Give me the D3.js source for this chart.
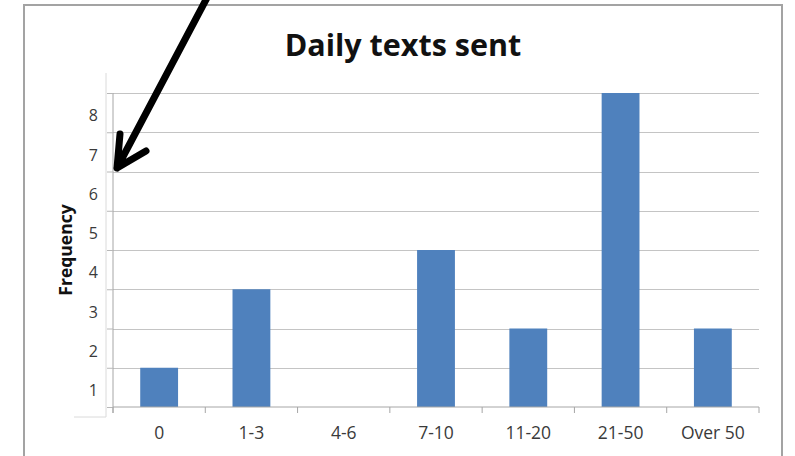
<!DOCTYPE html>
<html>
<head>
<meta charset="utf-8">
<script src="https://cdn.jsdelivr.net/npm/d3@7"></script>
<style>
  html, body { margin: 0; padding: 0; background: #fff; }
  svg { display: block; }
</style>
</head>
<body>
<svg id="chart" width="795" height="456"></svg>
<script>
// Daily texts sent — frequency of each range
const categories = ["0", "1-3", "4-6", "7-10", "11-20", "21-50", "Over 50"];
const frequency = [1, 3, 0, 4, 2, 8, 2];
const yTickValues = [0, 1, 2, 3, 4, 5, 6, 7, 8];
const titleText = "Daily texts sent";
const yTitle = "Frequency";

const svg = d3.select("#chart");
const font = "'Open Sans', 'Liberation Sans', sans-serif";

const plotLeft = 113, plotRight = 759, plotTop = 93, plotBottom = 407;

const x = d3.scaleBand().domain(categories).range([plotLeft, plotRight])
  .paddingInner(0.59).paddingOuter(0.295);
const xTick = d3.scaleBand().domain(categories).range([plotLeft, plotRight]);
const y = d3.scaleLinear().domain([0, 8]).range([plotBottom, plotTop]);

// outer frame
svg.append("rect")
  .attr("x", 24).attr("y", 5).attr("width", 758).attr("height", 520)
  .attr("fill", "none").attr("stroke", "#a3a3a3").attr("stroke-width", 2);

// faint box edge beside the value labels
svg.append("path")
  .attr("d", "M106,73V417H74")
  .attr("fill", "none").attr("stroke", "#dadada").attr("stroke-width", 1);

// horizontal gridlines
const grid = svg.append("g").attr("transform", `translate(${plotLeft},0)`)
  .call(d3.axisLeft(y).tickValues(yTickValues.slice(1)).tickSizeInner(-(plotRight - plotLeft)).tickSizeOuter(0).tickFormat(""));
grid.select(".domain").remove();
grid.selectAll(".tick line").attr("stroke", "#c4c4c4").attr("shape-rendering", "crispEdges");

// bars
svg.append("g").selectAll("rect")
  .data(categories)
  .join("rect")
  .attr("x", d => x(d))
  .attr("width", x.bandwidth())
  .attr("y", (d, i) => y(frequency[i]))
  .attr("height", (d, i) => y(0) - y(frequency[i]))
  .attr("fill", "#4f81bd");

// y axis
const band = y(0) - y(1);
const yAxis = svg.append("g").attr("transform", `translate(${plotLeft},0)`)
  .call(d3.axisLeft(y).tickValues(yTickValues).tickSizeInner(6).tickSizeOuter(0).tickPadding(9).tickFormat(d => d === 0 ? "" : d));
yAxis.select(".domain").attr("stroke", "#a6a6a6").attr("d", `M0,${plotTop}V${plotBottom + 6}`);
yAxis.selectAll(".tick line").attr("stroke", "#b8b8b8");
yAxis.selectAll(".tick text")
  .attr("transform", `translate(0,${band / 2 + 3})`)
  .attr("font-family", font).attr("font-size", 16).attr("fill", "#3a3a3a");

// x axis
const xAxis = svg.append("g").attr("transform", `translate(0,${plotBottom})`)
  .call(d3.axisBottom(xTick).tickSize(0).tickPadding(20));
xAxis.select(".domain").attr("stroke", "#a6a6a6").attr("d", `M${plotLeft},0H${plotRight}`);
xAxis.selectAll(".tick text")
  .attr("font-family", font).attr("font-size", 17.5).attr("fill", "#3a3a3a");
// category separator ticks
svg.append("g").selectAll("line")
  .data(categories.concat([null]))
  .join("line")
  .attr("x1", (d, i) => plotLeft + i * xTick.step())
  .attr("x2", (d, i) => plotLeft + i * xTick.step())
  .attr("y1", plotBottom).attr("y2", plotBottom + 6)
  .attr("stroke", "#a6a6a6");

// titles
svg.append("text")
  .attr("x", 403).attr("y", 56)
  .attr("text-anchor", "middle")
  .attr("font-family", font).attr("font-weight", "bold").attr("font-size", 30.5)
  .attr("fill", "#111").text(titleText);

svg.append("text")
  .attr("transform", "translate(72,250) rotate(-90)")
  .attr("text-anchor", "middle")
  .attr("font-family", font).attr("font-weight", "bold").attr("font-size", 17.5)
  .attr("fill", "#111").text(yTitle);

// arrow pointing at the value labels
svg.append("path")
  .attr("d", "M209,-6L117,168M120,134L117,168L146,151")
  .attr("fill", "none").attr("stroke", "#000").attr("stroke-width", 7)
  .attr("stroke-linecap", "round").attr("stroke-linejoin", "round");
</script>
</body>
</html>
